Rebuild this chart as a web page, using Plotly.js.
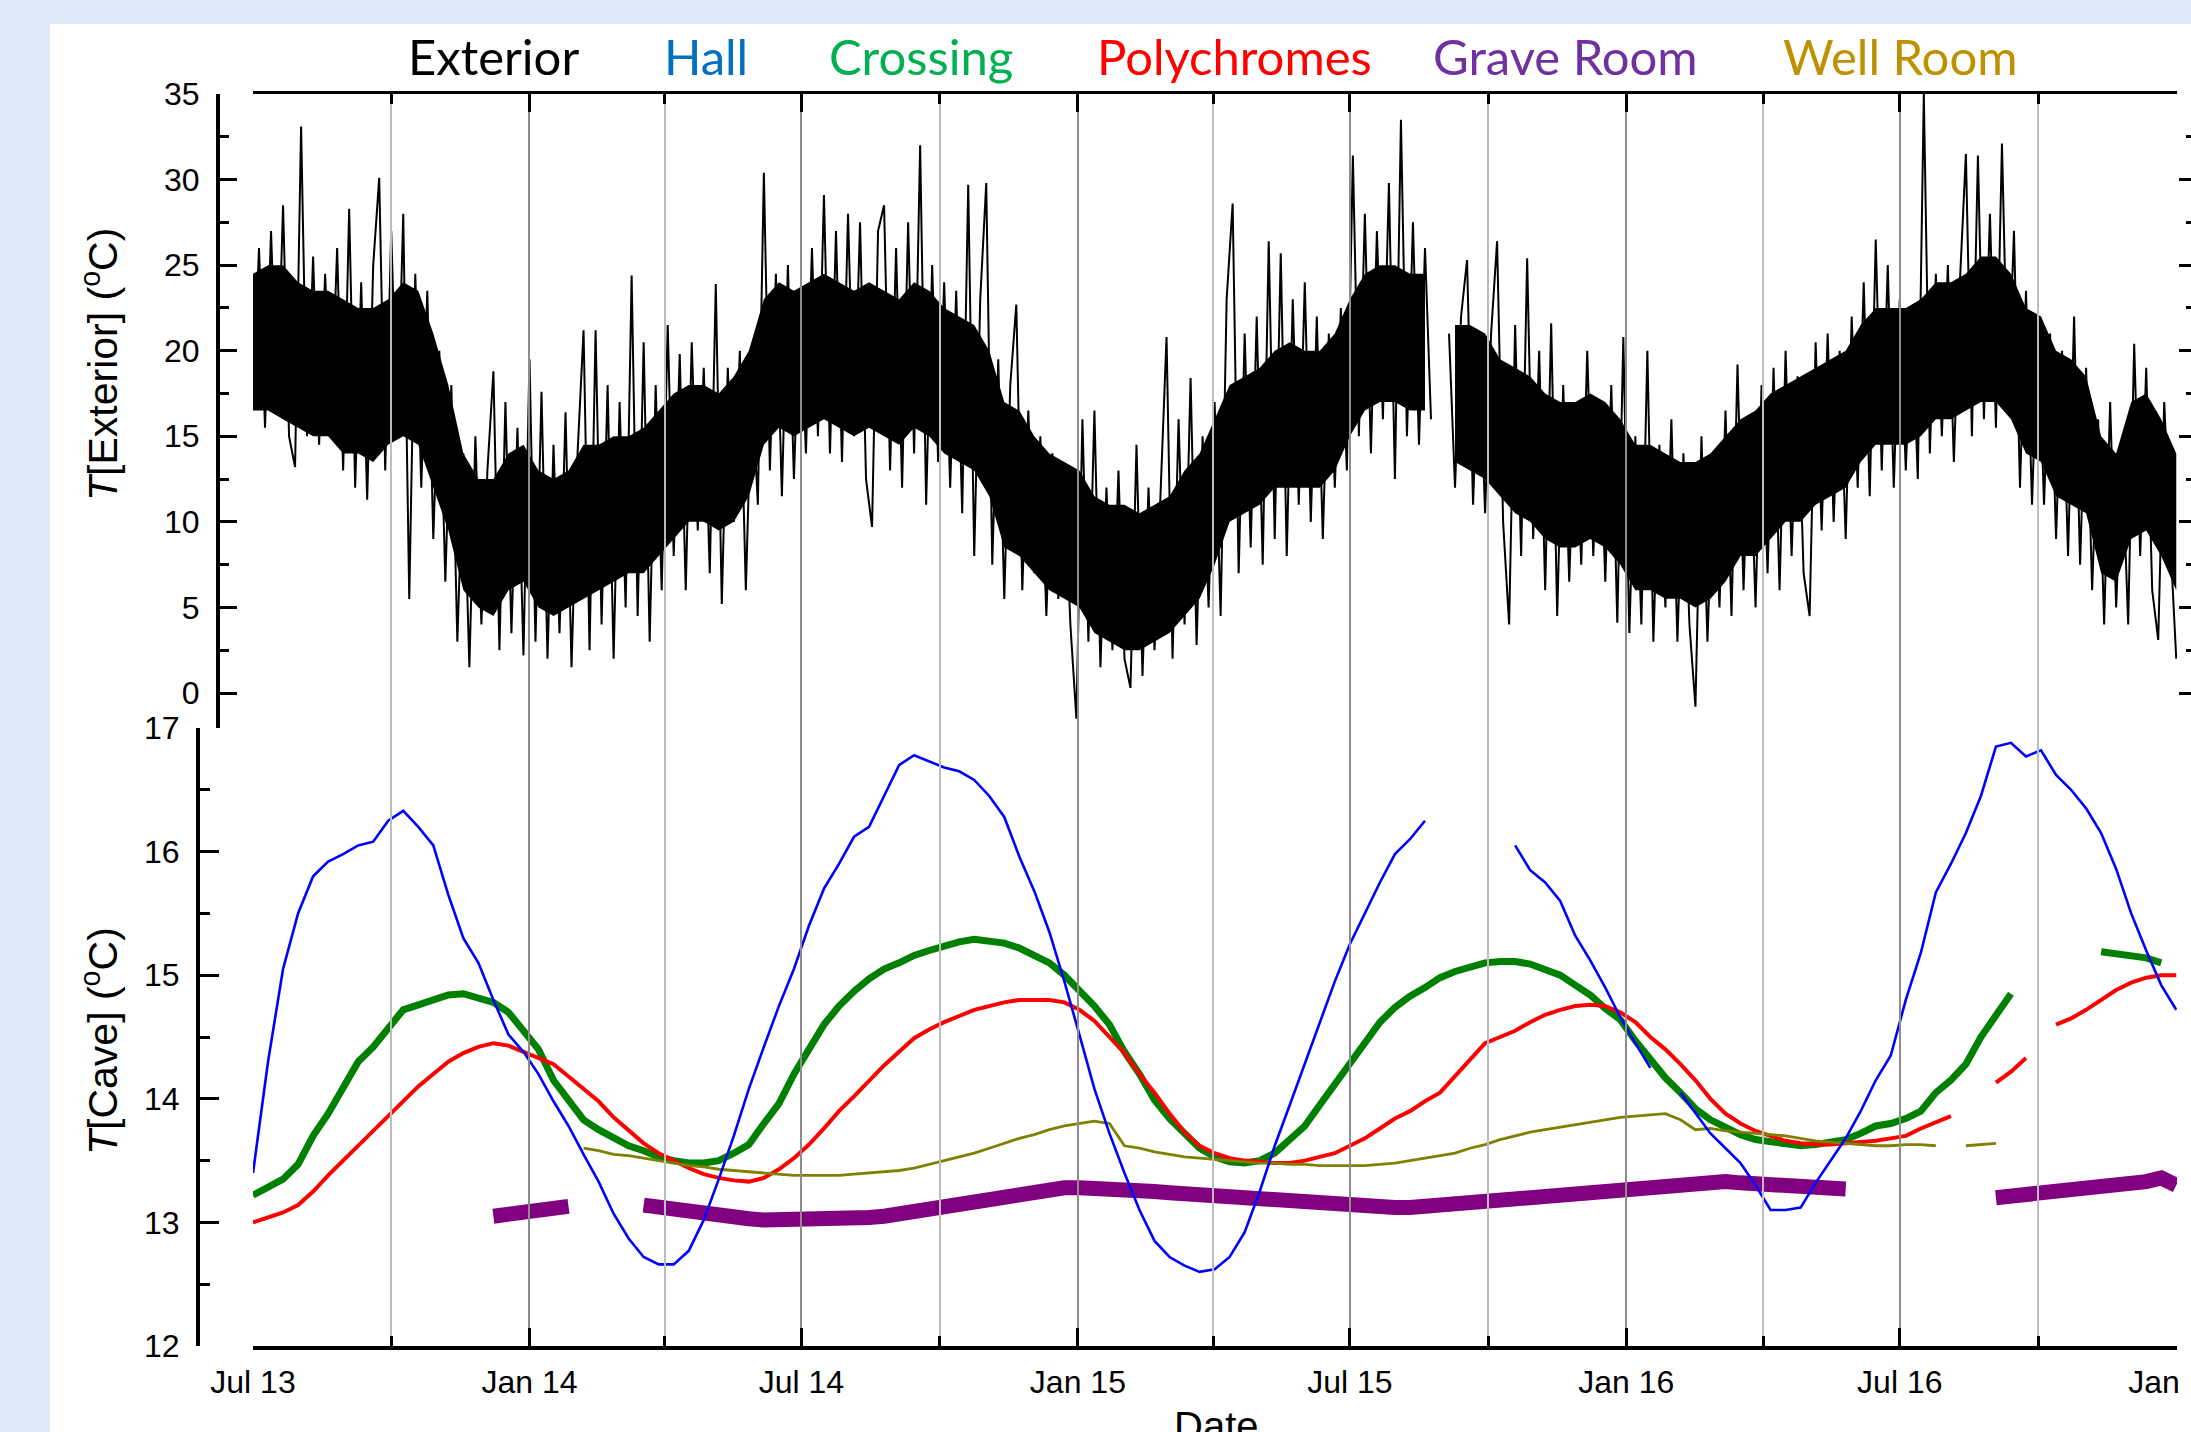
<!DOCTYPE html>
<html>
<head>
<meta charset="utf-8">
<script src="https://cdn.plot.ly/plotly-3.0.1.min.js"></script>
<style>html,body{margin:0;padding:0;background:#deebf7;}#chart{width:2191px;height:1432px;}</style>
</head>
<body>
<div id="chart"></div>
<script>
// ---------------- DATA ----------------
// Exterior temperature swings, one value every 4 days from 2013-07-01 (alternating highs/lows)
const exteriorStart = '2013-07-01';
const exteriorStepDays = 4;
const exteriorTemp = [
17,26,15.5,27,16.5,28.5,15,13.2,33.1,15,25.5,14.5,24.5,16,26,13,28.3,12,24,11.3,
25,30.1,13,27,15,28,5.5,24.5,12,23.5,9,20,6.5,18,3,14,1.5,15,4,13,
18.8,2.5,17,3.5,15.5,2.2,19.5,3,17.6,2,14.5,3.5,16.4,1.5,14,21.2,2.5,21.2,4,18,
2,17,5,24.4,4.5,20.5,3,18,6,21.5,8,19.8,6,20.5,9.5,19,7,23.9,5.2,19,
10,20,6,18.5,11,30.4,13,24.5,11.5,25,12.5,23,14,26,15,29.1,14,27,13.5,28,
15,27.5,12.5,9.7,27,28.5,13,26,12,27.5,14,32,11,25,13.5,24,12,23.5,10.5,29.7,
8,23,29.8,7.5,19.5,5.5,18,22.7,6,16.5,7,15,4.5,14,5.5,13,4,-1.5,16,3,
16.5,1.5,12,2.5,13,2,0.3,14.5,1,12,2.5,11.5,20.8,2,16,4,18.4,2.8,15,5,
17,4.5,23,28.6,7,21,8.5,22,7.5,26.4,9,25.7,8,23,11,24,10,22,9,21,
12,22.5,13,31.4,15,28,14,27,16,29.8,12.5,33.5,15,27.5,14.5,26,16,null,null,21,
12,22,25.3,11,21,10.5,21,26.4,10,4,21.5,8,25.4,9,20,6,21.6,4.5,18,6.5,
17,7.5,20,8,17,6.5,18,4.1,20.8,3.5,15,4,20,3,14.5,5,16,3,14,4,
-0.8,15,3,13.5,5,16.5,4.5,19.2,6,16,5,18,7,19,6,20,8,18.5,7,4.5,
20.5,9.5,21,10,20,9,22,12,24,11.5,26.5,13,25,12,23,13,22.5,12.5,35,14,
24.5,15,25,13.5,24,31.5,15,31.4,16,28,15.5,32.1,17,27,12,23.5,11,22,11,21,
9,20,8,22,7.5,19,6,16,4,17,5,14,4,20.4,8,19,6,3.1,17,9,
2
];

// Dense core of the exterior band (upper / lower edge), one value every 10 days from 2013-07-01
const exteriorCoreHigh = [
24.5,25,25,24,23.5,23.5,23,22.5,22.5,23,
24,23.5,21,18,14,12.5,12.5,14,14.5,13,
12.5,13,14.5,14.5,15,15,15.5,16.5,17.5,18,
18,17.5,18.5,20,23,24,23.5,24,24.5,24,
23.5,24,23.5,23,24,23.5,22.5,22,21.5,20,
17,16.5,15,14,13.5,13,11.5,11,11,10.5,
11,11.5,13,14,16,18,18.5,19,20,20.5,
20,20,21,23,24.5,25,25,24.5,24.5,null,
21.5,21.5,21,19.5,19,18.5,17.5,17,17,17.5,
17,16,14.5,14.5,14,13.5,13.5,14,15,16,
16.5,17.5,18,18.5,19,19.5,20,21.5,22.5,22.5,
22.5,23,24,24,24.5,25.5,25.5,24.5,22.5,22,
20,19.5,18.5,15,14,17,17.5,16,14
];
const exteriorCoreLow = [
16.5,16.5,16,15.5,15,15,14,14,13.5,14.5,
15,14.5,12,9.5,6,5,4.5,6,6.5,5,
4.5,5,5.5,6,6.5,7,7,8,9,10,
10,9.5,10,11.5,14.5,15.5,15,15.5,16,15.5,
15,15.5,15,14.5,15.5,15,14,13.5,13,11.5,
8.5,8,7,6,5.5,5,3.5,3,2.5,2.5,
3,3.5,4.5,5.5,7.5,10,10.5,11,12,12,
12,12,13,15,16.5,17,17,16.5,16.5,null,
13.5,13,12.5,11.5,10.5,10,9,8.5,8.5,9,
8.5,7.5,6,6,5.5,5.5,5,5.5,6.5,8,
8,9,10,10,11,11.5,12,13.5,14.5,14.5,
14.5,15,16,16,16.5,17,17,16,14,13.5,
11.5,11,10.5,7,6.5,9,9.5,8,6
];

// Cave temperatures, one value every 10 days from 2013-07-01
const caveStart = '2013-07-01';
const caveStepDays = 10;
const hallTemp = [
13.4,14.3,15.05,15.5,15.8,15.92,15.98,16.05,16.08,16.25,
16.33,16.2,16.05,15.65,15.3,15.1,14.8,14.52,14.38,14.2,
13.98,13.78,13.55,13.33,13.07,12.87,12.72,12.66,12.66,12.77,
13.02,13.35,13.7,14.08,14.42,14.75,15.05,15.4,15.7,15.9,
16.12,16.2,16.45,16.7,16.78,16.73,16.68,16.65,16.58,16.45,
16.28,15.96,15.68,15.35,14.95,14.52,14.08,13.72,13.4,13.1,
12.85,12.72,12.65,12.6,12.62,12.72,12.92,13.25,13.62,13.95,
14.28,14.62,14.95,15.25,15.5,15.75,15.98,16.1,16.25,null,
null,null,null,null,16.05,15.85,15.75,15.6,15.32,15.12,
14.9,14.66,14.45,14.25,null,14.05,13.88,13.72,13.6,13.48,
13.3,13.1,13.1,13.12,13.32,13.5,13.68,13.9,14.15,14.35,
14.8,15.18,15.67,15.9,16.15,16.45,16.85,16.88,16.77,16.82,
16.62,16.5,16.35,16.15,15.86,15.5,15.2,14.92,14.72
];
const crossingTemp = [
13.22,13.28,13.35,13.47,13.7,13.88,14.1,14.3,14.42,14.56,
14.72,14.76,14.8,14.84,14.85,14.82,14.78,14.7,14.55,14.4,
14.15,14.0,13.83,13.75,13.68,13.62,13.58,13.53,13.5,13.48,
13.48,13.5,13.56,13.63,13.8,13.96,14.2,14.4,14.6,14.75,
14.87,14.97,15.05,15.1,15.16,15.2,15.24,15.27,15.29,15.28,
15.26,15.22,15.16,15.1,15.0,14.88,14.75,14.6,14.38,14.2,
13.99,13.84,13.72,13.6,13.53,13.49,13.48,13.5,13.56,13.67,
13.78,13.95,14.12,14.28,14.45,14.62,14.74,14.83,14.9,14.98,
15.03,15.07,15.1,15.11,15.11,15.09,15.05,15.0,14.92,14.84,
14.73,14.64,14.47,14.32,14.17,14.05,13.92,13.83,13.77,13.71,
13.67,13.65,13.64,13.62,13.63,13.65,13.67,13.72,13.78,13.8,
13.84,13.9,14.05,14.15,14.28,14.5,14.68,14.85,null,null,
null,null,null,15.19,15.17,15.16,15.14,15.1,null
];
const polychromesTemp = [
13.0,13.04,13.08,13.14,13.25,13.38,13.5,13.62,13.74,13.86,
13.98,14.1,14.2,14.3,14.37,14.42,14.45,14.43,14.38,14.33,
14.28,14.18,14.08,13.98,13.85,13.74,13.64,13.56,13.5,13.44,
13.39,13.36,13.34,13.33,13.36,13.43,13.52,13.63,13.76,13.9,
14.02,14.15,14.27,14.38,14.49,14.56,14.62,14.67,14.72,14.75,
14.78,14.8,14.8,14.8,14.78,14.72,14.63,14.5,14.37,14.2,
14.05,13.88,13.73,13.62,13.56,13.52,13.5,13.49,13.48,13.48,
13.5,13.53,13.56,13.62,13.68,13.76,13.84,13.9,13.98,14.05,
14.18,14.32,14.45,14.5,14.55,14.62,14.68,14.72,14.75,14.76,
14.75,14.7,14.62,14.5,14.4,14.28,14.15,14.0,13.88,13.8,
13.74,13.7,13.66,13.64,13.63,13.63,13.64,13.65,13.66,13.68,
13.7,13.76,13.81,13.86,null,null,14.13,14.22,14.33,null,
14.6,14.65,14.72,14.8,14.88,14.94,14.98,15.0,15.0
];
const graveRoomTemp = [
null,null,null,null,null,null,null,null,null,null,
null,null,null,null,null,null,13.05,13.07,13.08,13.1,
13.11,13.13,null,null,null,null,13.14,13.12,13.1,13.08,
13.07,13.05,13.04,13.03,13.02,13.02,13.02,13.01,13.01,13.02,
13.03,13.04,13.05,13.07,13.09,13.11,13.13,13.16,13.18,13.2,
13.22,13.24,13.26,13.27,13.28,13.28,13.28,13.27,13.27,13.26,
13.25,13.24,13.23,13.22,13.21,13.2,13.19,13.18,13.17,13.16,
13.15,13.14,13.13,13.12,13.12,13.12,13.12,13.12,13.13,13.14,
13.15,13.17,13.19,13.2,13.22,13.23,13.24,13.25,13.26,13.27,
13.28,13.29,13.3,13.31,13.32,13.33,13.33,13.33,13.33,13.32,
13.31,13.3,13.3,13.29,13.28,13.28,13.27,null,null,null,
null,null,null,null,null,null,13.2,13.21,13.22,13.23,
13.24,13.25,13.27,13.28,13.3,13.31,13.33,13.36,13.3
];
const wellRoomTemp = [
null,null,null,null,null,null,null,null,null,null,
null,null,null,null,null,null,null,null,null,null,
null,null,13.6,13.58,13.55,13.54,13.52,13.5,13.48,13.46,
13.45,13.43,13.42,13.41,13.4,13.39,13.38,13.38,13.38,13.38,
13.39,13.4,13.41,13.42,13.44,13.47,13.5,13.53,13.56,13.6,
13.64,13.68,13.71,13.75,13.78,13.8,13.82,13.8,13.62,13.6,
13.57,13.55,13.53,13.52,13.51,13.5,13.49,13.48,13.48,13.47,
13.47,13.46,13.46,13.46,13.46,13.47,13.48,13.5,13.52,13.54,
13.56,13.6,13.63,13.67,13.7,13.73,13.75,13.77,13.79,13.81,
13.83,13.85,13.86,13.87,13.88,13.83,13.75,13.76,13.74,13.73,
13.72,13.71,13.7,13.68,13.66,13.65,13.64,13.63,13.62,13.62,
13.63,13.63,13.62,null,13.62,13.63,13.64,null,null,null,
null,null,null,null,null,null,null,null,null
];

const seriesNames = ['Exterior','Hall','Crossing','Polychromes','Grave Room','Well Room'];
const legendColors = ['#000000','#0070c0','#00b050','#ff0000','#7030a0','#bf9000'];
const lineColors = ['#000000','#0000ff','#008000','#ff0000','#800080','#808000'];
const xTickFormat = '%b %y';

// ---------------- helpers ----------------
function makeDates(start, stepDays, n) {
  const t0 = Date.parse(start + 'T00:00:00Z');
  const out = [];
  for (let i = 0; i < n; i++) out.push(new Date(t0 + i * stepDays * 86400000).toISOString().slice(0, 10));
  return out;
}
const W = 2191, H = 1432;
const px = v => v / W;
const py = v => 1 - v / H;

const extDates = makeDates(exteriorStart, exteriorStepDays, exteriorTemp.length);
const caveDates = makeDates(caveStart, caveStepDays, hallTemp.length);

// split the core band at its data gap so each piece is filled on its own
function bandPieces(dates, lo, hi) {
  const pieces = [];
  let cur = null;
  for (let i = 0; i < dates.length; i++) {
    if (lo[i] === null || hi[i] === null) { if (cur) { pieces.push(cur); cur = null; } continue; }
    if (!cur) cur = {x: [], lo: [], hi: []};
    cur.x.push(dates[i]); cur.lo.push(lo[i]); cur.hi.push(hi[i]);
  }
  if (cur) pieces.push(cur);
  return pieces;
}

const traces = [];
bandPieces(caveDates, exteriorCoreLow, exteriorCoreHigh).forEach(p => {
  traces.push({x: p.x, y: p.lo, type: 'scatter', mode: 'lines', yaxis: 'y', line: {width: 0, color: '#000'},
               showlegend: false, hoverinfo: 'skip'});
  traces.push({x: p.x, y: p.hi, type: 'scatter', mode: 'lines', yaxis: 'y', line: {width: 0, color: '#000'},
               fill: 'tonexty', fillcolor: '#000000', showlegend: false, hoverinfo: 'skip'});
});
traces.push(
  {x: extDates, y: exteriorTemp, type: 'scatter', mode: 'lines', name: seriesNames[0], yaxis: 'y',
   line: {color: lineColors[0], width: 2}, connectgaps: false, hoverinfo: 'skip'},
  {x: caveDates, y: crossingTemp, type: 'scatter', mode: 'lines', name: seriesNames[2], yaxis: 'y2',
   line: {color: lineColors[2], width: 7}, connectgaps: false},
  {x: caveDates, y: polychromesTemp, type: 'scatter', mode: 'lines', name: seriesNames[3], yaxis: 'y2',
   line: {color: lineColors[3], width: 4}, connectgaps: false},
  {x: caveDates, y: wellRoomTemp, type: 'scatter', mode: 'lines', name: seriesNames[5], yaxis: 'y2',
   line: {color: lineColors[5], width: 2.8}, connectgaps: false},
  {x: caveDates, y: graveRoomTemp, type: 'scatter', mode: 'lines', name: seriesNames[4], yaxis: 'y2',
   line: {color: lineColors[4], width: 15}, connectgaps: false},
  {x: caveDates, y: hallTemp, type: 'scatter', mode: 'lines', name: seriesNames[1], yaxis: 'y2',
   line: {color: lineColors[1], width: 2.6}, connectgaps: false},
  {x: [exteriorStart], y: [null], type: 'scatter', mode: 'lines', yaxis: 'y3', showlegend: false, hoverinfo: 'skip'},
  {x: [exteriorStart], y: [null], type: 'scatter', mode: 'lines', yaxis: 'y4', showlegend: false, hoverinfo: 'skip'}
);

const tickFont = {family: 'Liberation Sans, Arial, sans-serif', size: 32, color: '#000'};
const xDomain = [px(253), px(2177)];
const topDomain = [py(728), py(94)];
const botDomain = [py(1346), py(728)];

const layout = {
  width: W, height: H,
  margin: {l: 0, r: 0, t: 0, b: 0, pad: 0},
  paper_bgcolor: '#deebf7',
  plot_bgcolor: 'rgba(0,0,0,0)',
  font: {family: 'Liberation Sans, Arial, sans-serif', color: '#000'},
  showlegend: false,
  xaxis: {
    type: 'date', domain: xDomain, anchor: 'y3',
    range: ['2013-07-01', '2017-01-01 12:00'],
    dtick: 'M6', tick0: '2013-07-01', tickformat: xTickFormat,
    ticks: 'inside', ticklen: 18, tickwidth: 3, tickcolor: '#000',
    showline: true, linewidth: 3.5, linecolor: '#000', mirror: 'ticks',
    showgrid: true, gridcolor: '#8c8c8c', gridwidth: 2,
    minor: {dtick: 'M3', tick0: '2013-07-01', ticks: 'inside', ticklen: 10, tickwidth: 3, tickcolor: '#000',
            showgrid: true, gridcolor: '#bdbdbd', gridwidth: 2},
    tickfont: tickFont, ticklabelstandoff: 5, ticklabeloverflow: 'allow',
    zeroline: false
  },
  yaxis: {
    domain: topDomain, anchor: 'free', position: px(217),
    range: [-2.045, 35], dtick: 5, tick0: 0,
    ticks: 'inside', ticklen: 17, tickwidth: 3, tickcolor: '#000',
    minor: {dtick: 2.5, tick0: 0, ticks: 'inside', ticklen: 9, tickwidth: 3, tickcolor: '#000', showgrid: false},
    showline: true, linewidth: 3.5, linecolor: '#000',
    showgrid: false, zeroline: false, tickfont: tickFont, ticklabelstandoff: 10
  },
  yaxis2: {
    domain: botDomain, anchor: 'free', position: px(197),
    range: [12, 17], dtick: 1, tick0: 12,
    ticks: 'inside', ticklen: 19, tickwidth: 3, tickcolor: '#000',
    minor: {dtick: 0.5, tick0: 12, ticks: 'inside', ticklen: 10, tickwidth: 3, tickcolor: '#000', showgrid: false},
    showline: true, linewidth: 3.5, linecolor: '#000',
    showgrid: false, zeroline: false, tickfont: tickFont, ticklabelstandoff: 10
  },
  yaxis3: {
    domain: [botDomain[0], topDomain[1]], range: [0, 1], visible: false, anchor: 'x'
  },
  yaxis4: {
    overlaying: 'y', side: 'right', anchor: 'free', position: 1,
    range: [-2.045, 35], dtick: 5, tick0: 0,
    ticks: 'inside', ticklen: 12, tickwidth: 3, tickcolor: '#000',
    minor: {dtick: 2.5, tick0: 0, ticks: 'inside', ticklen: 5, tickwidth: 3, tickcolor: '#000', showgrid: false},
    showline: false, showgrid: false, zeroline: false, showticklabels: false
  },
  shapes: [
    {type: 'rect', xref: 'paper', yref: 'paper', x0: px(50), x1: 1.01, y0: -0.01, y1: py(24),
     fillcolor: '#ffffff', line: {width: 0}, layer: 'below'}
  ],
  annotations: []
};

const legendCenters = [493, 706, 921, 1234, 1565, 1900];
seriesNames.forEach((name, i) => {
  layout.annotations.push({
    text: name, xref: 'paper', yref: 'paper', x: px(legendCenters[i]), y: py(56),
    xanchor: 'center', yanchor: 'middle', showarrow: false,
    font: {family: 'Lato, Noto Sans, sans-serif', size: 49, color: legendColors[i]}
  });
});
layout.annotations.push({
  text: '<i>T</i>[Exterior] (<sup>o</sup>C)', xref: 'paper', yref: 'paper', x: px(100), y: py(365),
  xanchor: 'center', yanchor: 'middle', textangle: -90, showarrow: false,
  font: {family: 'Liberation Sans, Arial, sans-serif', size: 41, color: '#000'}
});
layout.annotations.push({
  text: '<i>T</i>[Cave] (<sup>o</sup>C)', xref: 'paper', yref: 'paper', x: px(100), y: py(1041),
  xanchor: 'center', yanchor: 'middle', textangle: -90, showarrow: false,
  font: {family: 'Liberation Sans, Arial, sans-serif', size: 41, color: '#000'}
});
// x axis title, partly cut by the bottom edge as in the reference
layout.annotations.push({
  text: 'Date', xref: 'paper', yref: 'paper', x: px(1216), y: py(1402),
  xanchor: 'center', yanchor: 'top', showarrow: false,
  font: {family: 'Liberation Sans, Arial, sans-serif', size: 40, color: '#000'}
});

Plotly.newPlot('chart', traces, layout, {displayModeBar: false, staticPlot: true});
</script>
</body>
</html>
